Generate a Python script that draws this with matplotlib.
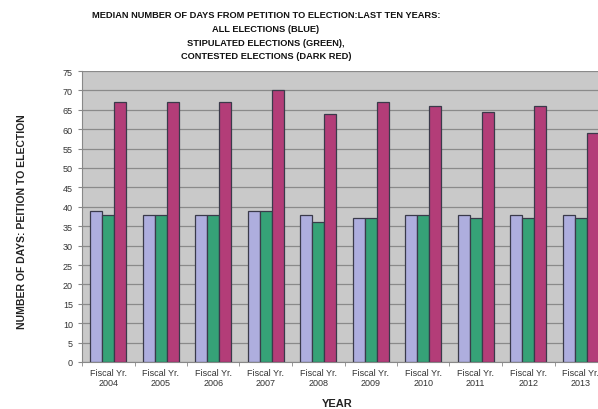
import matplotlib
matplotlib.use("Agg")
import matplotlib.pyplot as plt
import numpy as np

plt.rcParams['font.family'] = ['Liberation Sans', 'DejaVu Sans']

years = ["2004", "2005", "2006", "2007", "2008", "2009", "2010", "2011", "2012", "2013"]
tick_labels = ["Fiscal Yr.\n" + y for y in years]
all_elections = [39, 38, 38, 39, 38, 37, 38, 38, 38, 38]
stipulated = [38, 38, 38, 39, 36, 37, 38, 37, 37, 37]
contested = [67, 67, 67, 70, 64, 67, 66, 64.5, 66, 59]

fig = plt.figure(figsize=(5.98, 4.10), dpi=100)
W, H = 598, 410
left, right, top, bottom = 82, 607, 72, 363
ax = fig.add_axes([left / W, 1 - bottom / H, (right - left) / W, (bottom - top) / H])
ax.set_facecolor('#c9c9c9')

x = np.arange(len(years))
bw = 0.23
ec = '#3a3a4a'
ax.bar(x - bw, all_elections, bw, color='#aeaede', edgecolor=ec, linewidth=0.9, zorder=3)
ax.bar(x, stipulated, bw, color='#36a277', edgecolor=ec, linewidth=0.9, zorder=3)
ax.bar(x + bw, contested, bw, color='#b33d78', edgecolor=ec, linewidth=0.9, zorder=3)

ax.set_xlim(-0.5, len(years) - 0.5)
ax.set_ylim(0, 75)
ax.set_yticks(np.arange(0, 76, 5))
ax.yaxis.grid(True, color='#8a8a8a', linewidth=0.9, zorder=0)
ax.set_axisbelow(True)
ax.set_xticks(x)
ax.set_xticklabels(tick_labels, fontsize=6.5, color='#333333', linespacing=1.2)
ax.set_xticks(np.arange(-0.5, len(years), 1), minor=True)
ax.tick_params(axis='x', which='major', length=0, pad=4)
ax.tick_params(axis='x', which='minor', length=3, color='#888888')
ax.tick_params(axis='y', labelsize=6.5, labelcolor='#333333', length=3, color='#888888')
for s in ['top', 'right']:
    ax.spines[s].set_visible(False)
ax.spines['left'].set_color('#888888')
ax.spines['bottom'].set_color('#888888')

fig.text(266 / W, 1 - 11 / H,
         "MEDIAN NUMBER OF DAYS FROM PETITION TO ELECTION:LAST TEN YEARS:\n"
         "ALL ELECTIONS (BLUE)\nSTIPULATED ELECTIONS (GREEN),\nCONTESTED ELECTIONS (DARK RED)",
         ha='center', va='top', fontsize=6.7, fontweight='bold', linespacing=1.68,
         color='#111111')
fig.text(22 / W, 1 - 222 / H, "NUMBER OF DAYS: PEITION TO ELECTION", rotation=90,
         ha='center', va='center', fontsize=7.5, fontweight='bold', color='#222222')
fig.text(337 / W, 1 - 404 / H, "YEAR", ha='center', va='center', fontsize=8,
         fontweight='bold', color='#222222')

fig.savefig("out.png", dpi=100)
